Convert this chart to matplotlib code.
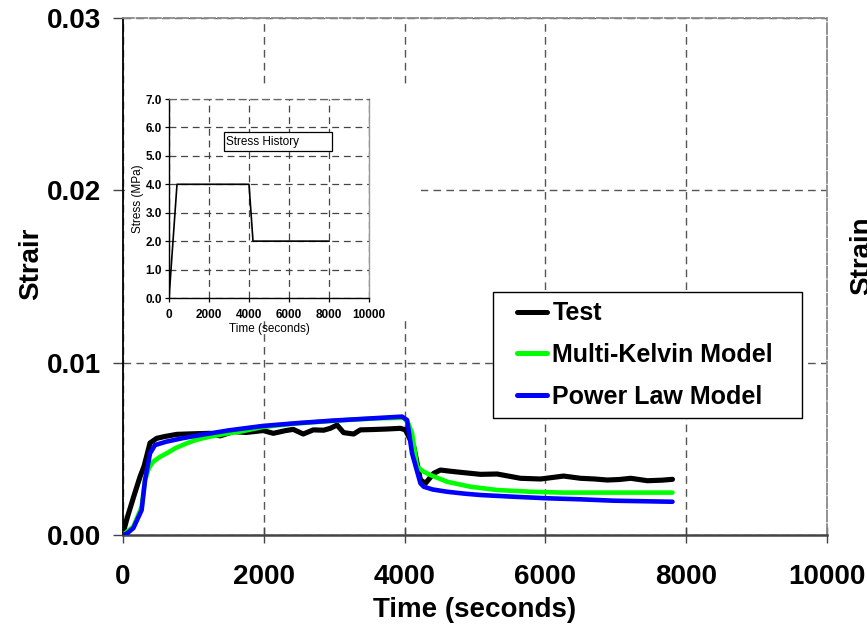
import matplotlib
matplotlib.use("Agg")
import matplotlib.pyplot as plt
from matplotlib import font_manager
from matplotlib.lines import Line2D
from matplotlib.legend_handler import HandlerLine2D
from matplotlib.patches import Rectangle
from matplotlib.ticker import FormatStrFormatter

# ---- creep test: strain vs time ----
t_test = [0, 60, 150, 242, 300, 384, 479, 600, 764, 900, 1050, 1238, 1380, 1565,
          1750, 1991, 2134, 2300, 2418, 2560, 2703, 2850, 2944, 3040, 3134, 3276,
          3371, 3550, 3750, 3940, 4011, 4130, 4225, 4296, 4414, 4509, 4650, 4836,
          5078, 5315, 5500, 5647, 5932, 6259, 6501, 6700, 6880, 7050, 7212, 7449,
          7650, 7805]
strain_test = [0.0001, 0.0010, 0.0022, 0.00338, 0.0040, 0.00534, 0.00561, 0.00572,
               0.00584, 0.00586, 0.00588, 0.0059, 0.00575, 0.0060, 0.00595, 0.00606,
               0.0059, 0.00605, 0.00613, 0.00586, 0.0061, 0.00608, 0.00619, 0.00638,
               0.00594, 0.00586, 0.0061, 0.00612, 0.00615, 0.00619, 0.0061, 0.00513,
               0.0032, 0.0030, 0.00358, 0.00377, 0.0037, 0.00362, 0.00352, 0.00354,
               0.0034, 0.00329, 0.00325, 0.00342, 0.00329, 0.00325, 0.00319, 0.00322,
               0.00329, 0.00315, 0.00318, 0.00323]

t_mk = [0, 28, 147, 265, 313, 370, 431, 520, 620, 750, 904, 1050, 1238, 1450, 1664,
        1991, 2400, 2800, 3200, 3600, 3987, 4050, 4106, 4177, 4260, 4367, 4604, 4936,
        5315, 5789, 6259, 6970, 7805]
strain_mk = [0, 0.0001, 0.00048, 0.00164, 0.00319, 0.0039, 0.00426, 0.00452, 0.00474,
             0.00505, 0.00532, 0.00553, 0.00571, 0.00587, 0.006, 0.00627, 0.00645,
             0.00657, 0.00668, 0.00677, 0.0068, 0.0065, 0.0059, 0.00396, 0.0037,
             0.00348, 0.00309, 0.0028, 0.00261, 0.00251, 0.00246, 0.00246, 0.00246]

t_pl = [0, 60, 147, 265, 313, 384, 455, 620, 850, 1095, 1500, 1991, 2500, 2987, 3500,
        3963, 4035, 4106, 4225, 4272, 4400, 4604, 4850, 5078, 5552, 6027, 6501, 6975,
        7805]
strain_pl = [0, 0.0001, 0.0004, 0.00145, 0.00319, 0.00474, 0.00522, 0.00542, 0.00562,
             0.0058, 0.00607, 0.00633, 0.0065, 0.00664, 0.00676, 0.00687, 0.00667,
             0.00474, 0.0030, 0.0028, 0.00264, 0.00251, 0.0024, 0.00232, 0.00222,
             0.00213, 0.00207, 0.00199, 0.00193]

series_labels = ["Test", "Multi-Kelvin Model", "Power Law Model"]
series_colors = ["#000000", "#00FF00", "#0000FF"]

x_ticks = [0, 2000, 4000, 6000, 8000, 10000]
y_ticks = [0.00, 0.01, 0.02, 0.03]

# ---- applied stress history ----
stress_time = [0, 400, 4000, 4200, 8000]
stress_mpa = [0, 4.0, 4.0, 2.0, 2.0]
inset_y_ticks = [0, 1, 2, 3, 4, 5, 6, 7]

MAIN_FONT = "Liberation Sans"


def font_available(name):
    try:
        font_manager.findfont(font_manager.FontProperties(family=name),
                              fallback_to_default=False)
        return True
    except Exception:
        return False


if font_available("Liberation Sans Narrow"):
    SMALL_FONT, small_scale = "Liberation Sans Narrow", 1.0
else:
    SMALL_FONT, small_scale = "Liberation Sans", 0.9

plt.rcParams["font.family"] = [MAIN_FONT, "DejaVu Sans"]

W, H = 867, 632
fig = plt.figure(figsize=(W / 100, H / 100), dpi=100)
fig.patch.set_facecolor("white")


def fx(px):
    return px / W


def fy(py):
    return 1 - py / H


# main axes
ax = fig.add_axes([fx(123), fy(535), fx(827) - fx(123), fy(18) - fy(535)])
ax.set_xlim(0, 10000)
ax.set_ylim(0, 0.03)
ax.set_xticks(x_ticks)
ax.set_yticks(y_ticks)
ax.yaxis.set_major_formatter(FormatStrFormatter("%.2f"))

grid_dash = (0, (5.5, 3.8))
ax.grid(True, color="#555555", linestyle=grid_dash, linewidth=1.0)
ax.set_axisbelow(True)

for sp in ("top", "right"):
    ax.spines[sp].set_color("#8a8a8a")
    ax.spines[sp].set_linestyle((0, (6, 1.5)))
    ax.spines[sp].set_linewidth(1.3)
ax.spines["left"].set_color("#000000")
ax.spines["left"].set_linewidth(1.3)
ax.spines["bottom"].set_color("#444444")
ax.spines["bottom"].set_linewidth(1.8)

ax.tick_params(axis="y", direction="out", length=7, width=1.0, color="#444444",
               pad=9, labelsize=20)
ax.tick_params(axis="x", direction="inout", length=12, width=1.0, color="#444444",
               pad=15, labelsize=20)
for lab in ax.get_xticklabels() + ax.get_yticklabels():
    lab.set_fontweight("bold")

lw = [3.7, 3.3, 3.3]
for t, s, c, lbl, w in zip([t_test, t_mk, t_pl], [strain_test, strain_mk, strain_pl],
                           series_colors, series_labels, lw):
    ax.plot(t, s, color=c, linewidth=w, label=lbl, solid_joinstyle="round",
            solid_capstyle="round", zorder=3)

leg_x0 = (493 - 123) / 704
leg_x1 = (802 - 123) / 704
leg_y1 = (535 - 292) / 517
leg_y0 = (535 - 418) / 517
leg = ax.legend(loc="upper left",
                bbox_to_anchor=(leg_x0, leg_y0, leg_x1 - leg_x0, leg_y1 - leg_y0),
                mode="expand", borderaxespad=0, borderpad=0.38, frameon=True,
                fancybox=False, edgecolor="#000000", framealpha=1.0,
                handlelength=1.8, handletextpad=0.2, labelspacing=0.70,
                prop={"family": MAIN_FONT, "weight": "bold", "size": 18},
                handler_map={Line2D: HandlerLine2D(xpad=0.57)})
leg.get_frame().set_linewidth(1.0)
for h in leg.get_lines():
    h.set_linewidth(3.6)
    h.set_solid_capstyle("round")

# axis labels
ax.text(0.5, (535 - 610) / 517, "Time (seconds)", transform=ax.transAxes,
        ha="center", va="center", fontsize=20, fontweight="bold")
fig.text(fx(38), fy(300), "Strair", rotation=90, rotation_mode="anchor",
         ha="left", va="baseline", fontsize=20, fontweight="bold")
fig.text(fx(869), fy(295), "Strain", rotation=90, rotation_mode="anchor",
         ha="left", va="baseline", fontsize=20, fontweight="bold")

# white panel behind the stress-history inset
cover = fig.add_axes([fx(125), fy(318), fx(421) - fx(125), fy(84) - fy(318)])
cover.set_facecolor("white")
cover.set_xticks([])
cover.set_yticks([])
for sp in cover.spines.values():
    sp.set_visible(False)
cover.set_zorder(2)

# inset: stress history
axi = fig.add_axes([fx(169), fy(298), fx(369) - fx(169), fy(99) - fy(298)])
axi.set_zorder(3)
axi.set_xlim(0, 10000)
axi.set_ylim(0, 7)
axi.set_xticks(x_ticks)
axi.set_yticks(inset_y_ticks)
axi.yaxis.set_major_formatter(FormatStrFormatter("%.1f"))
axi.grid(True, color="#444444", linestyle=(0, (5.5, 3.8)), linewidth=0.9)
axi.set_axisbelow(True)
axi.spines["top"].set_color("#666666")
axi.spines["top"].set_linestyle((0, (5.5, 3.8)))
axi.spines["top"].set_linewidth(0.9)
axi.spines["right"].set_color("#999999")
axi.spines["right"].set_linewidth(1.0)
axi.spines["left"].set_color("#000000")
axi.spines["bottom"].set_color("#000000")
axi.spines["left"].set_linewidth(1.0)
axi.spines["bottom"].set_linewidth(1.0)

small = 9.4 * small_scale
axi.tick_params(axis="both", direction="out", length=3, width=0.9, color="#000000",
                pad=2, labelsize=small)
axi.tick_params(axis="x", pad=5)
for lab in axi.get_xticklabels() + axi.get_yticklabels():
    lab.set_fontweight("bold")
    lab.set_family([SMALL_FONT, MAIN_FONT])

axi.plot(stress_time, stress_mpa, color="#000000", linewidth=1.2)

axi.set_xlabel("Time (seconds)", fontsize=small, family=[SMALL_FONT, MAIN_FONT],
               labelpad=1)
axi.set_ylabel("Stress (MPa)", fontsize=small, family=[SMALL_FONT, MAIN_FONT],
               labelpad=1)

box_x0, box_x1 = (224 - 169) / 200, (332 - 169) / 200
box_y0, box_y1 = (298 - 151) / 199, (298 - 132) / 199
axi.add_patch(Rectangle((box_x0, box_y0), box_x1 - box_x0, box_y1 - box_y0,
                        transform=axi.transAxes, facecolor="white",
                        edgecolor="#000000", linewidth=0.9, zorder=4))
axi.text(box_x0 + 0.012, (box_y0 + box_y1) / 2, "Stress History",
         transform=axi.transAxes, ha="left", va="center", fontsize=small,
         family=[SMALL_FONT, MAIN_FONT], zorder=5)

fig.savefig("out.png", dpi=100)
